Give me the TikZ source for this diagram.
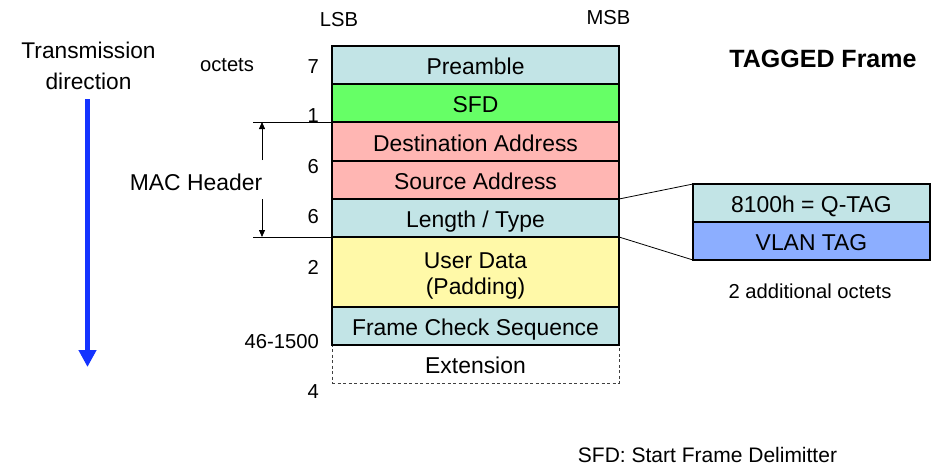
\documentclass[tikz,border=0pt]{standalone}
\usepackage{fontspec}
\setmainfont{Liberation Sans}
\usetikzlibrary{arrows.meta}

\definecolor{fldcyan}{RGB}{194,228,230}
\definecolor{fldgreen}{RGB}{102,255,102}
\definecolor{fldpink}{RGB}{255,182,179}
\definecolor{fldyellow}{RGB}{255,249,168}
\definecolor{fldblue}{RGB}{140,174,255}
\definecolor{dirblue}{RGB}{20,51,255}

\begin{document}
\begin{tikzpicture}[x=1pt,y=-1pt,
  big/.style={font=\fontsize{22.9}{26}\selectfont},
  small/.style={font=\fontsize{20.2}{24}\selectfont},
  field/.style={big, draw=black, line width=2pt, rectangle, inner sep=0pt, outer sep=0pt,
    minimum width=287pt, minimum height=38pt, text height=22.7pt, text depth=3.6pt},
  tagfield/.style={field, line width=1.5pt, minimum width=237pt},
  octno/.style={small, anchor=east, inner sep=0pt},
  thinline/.style={line width=0.8pt},
  bracketarrow/.style={thinline, -{Triangle[length=7pt,width=6pt]}},
]
\useasboundingbox (0,0) rectangle (937,467);

% frame fields
\node[field, draw=black!75, line width=0.8pt, dash pattern=on 3pt off 2.5pt] (ext) at (475.5,364) {Extension};
\node[field, fill=fldcyan] (pre) at (475.5,65) {Preamble};
\node[field, fill=fldgreen] (sfd) at (475.5,103) {SFD};
\node[field, fill=fldpink, minimum height=39pt] (dst) at (475.5,141.5) {Destination Address};
\node[field, fill=fldpink] (src) at (475.5,180) {Source Address};
\node[field, fill=fldcyan] (len) at (475.5,218) {Length / Type};
\node[field, fill=fldyellow, minimum height=70pt, text height=48pt, text depth=2.4pt, align=center] (dat) at (475.5,272) {User Data\\(Padding)};
\node[field, fill=fldcyan] (fcs) at (475.5,326) {Frame Check Sequence};

% bit order
\node[small] (lsb) at (339,20) {LSB};
\node[small] (msb) at (608.5,18) {MSB};

% octet counts
\node[small] (octlbl) at (227,65) {octets};
\node[octno] (n7) at (319,67) {7};
\node[octno] (n1) at (319,116) {1};
\node[octno] (n6a) at (319,167) {6};
\node[octno] (n6b) at (319,217) {6};
\node[octno] (n2) at (319,267) {2};
\node[octno] (n46) at (319,342) {46-1500};
\node[octno] (n4) at (319,392) {4};

% transmission direction
\node[font=\fontsize{22.7}{31}\selectfont, align=center] (trans) at (88.5,66) {Transmission\\direction};
\coordinate (dtop) at (87.5,99);
\coordinate (dbot) at (87.5,367);
\draw[dirblue, line width=5.5pt, -{Triangle[width=17pt,length=17pt]}] (dtop) -- (dbot);

% MAC header bracket
\coordinate (mhtop) at (253,122);
\coordinate (mhbot) at (253,237);
\draw[thinline] (mhtop) -- (dst.north west);
\draw[thinline] (mhbot) -- (len.south west);
\node[big] (mac) at (196,182) {MAC Header};
\coordinate (mhup0) at (262,160);
\coordinate (mhup1) at (262,122);
\coordinate (mhdn0) at (262,199);
\coordinate (mhdn1) at (262,237);
\draw[bracketarrow] (mhup0) -- (mhup1);
\draw[bracketarrow] (mhdn0) -- (mhdn1);

% inserted tag
\node[tagfield, fill=fldcyan] (qtag) at (811.5,203) {8100h = Q-TAG};
\node[tagfield, fill=fldblue] (vlan) at (811.5,241) {VLAN TAG};
\draw[thinline] (src.south east) -- (qtag.north west);
\draw[thinline] (len.south east) -- (vlan.south west);
\node[small] (addl) at (810,291.5) {2 additional octets};

% title and note
\node[font=\bfseries\fontsize{25}{29}\selectfont] (title) at (823,58.5) {TAGGED Frame};
\node[font=\fontsize{21}{25}\selectfont] (note) at (707.5,455) {SFD: Start Frame Delimitter};
\end{tikzpicture}
\end{document}
